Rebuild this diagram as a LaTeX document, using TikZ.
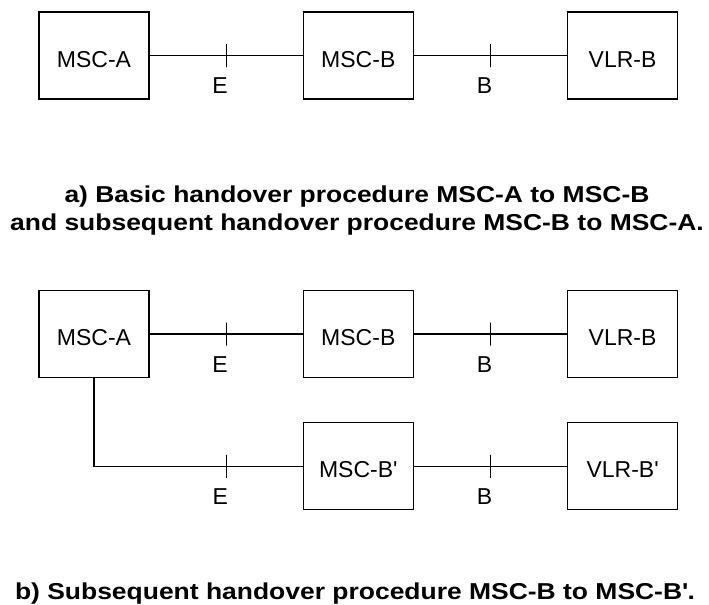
\documentclass[tikz,border=0pt]{standalone}
\usepackage{fontspec}
\setmainfont{Liberation Sans}
\newfontfamily\capfont{Liberation Sans}[FakeStretch=1.15]
\usetikzlibrary{positioning}

\begin{document}
\begin{tikzpicture}[
		x=0.5pt, y=-0.5pt,
		node distance=76.5pt,
		every node/.style={font=\fontsize{11.5}{14}\selectfont},
		entity/.style={
			rectangle,
			draw=black,
			line width=0.65pt,
			minimum width=55pt,
			minimum height=43.5pt,
			inner sep=0pt,
			text height=11.7pt,
			text depth=0pt
		},
		link/.style={line width=0.65pt},
		tickmark/.style={
			rectangle,
			draw=black,
			line width=0.65pt,
			minimum width=0pt,
			minimum height=11.5pt,
			inner sep=0pt
		},
		iface/.style={below=11pt, xshift=-3pt, inner sep=0pt},
		caption/.style={font=\capfont\bfseries\fontsize{11.5}{14}\selectfont, align=center}
	]
	\useasboundingbox (0,0) rectangle (709,605);
	
	% a) Basic handover
	\node (mscA) [entity] at (94,55.5) {MSC-A};
	\node (mscB) [entity, right=of mscA] {MSC-B};
	\node (vlrB) [entity, right=of mscB] {VLR-B};
	
	\draw [link] (mscA) -- node[tickmark, midway] {} node[iface, midway] {E} (mscB);
	\draw [link] (mscB) -- node[tickmark, midway] {} node[iface, midway] {B} (vlrB);
	
	\node (capA) [caption, anchor=base] at (357,230)
	{a) Basic handover procedure MSC-A to MSC-B\\and subsequent handover procedure MSC-B to MSC-A.};
	
	% b) Subsequent handover
	\node (mscA2) [entity] at (94,334) {MSC-A};
	\node (mscB2) [entity, right=of mscA2] {MSC-B};
	\node (vlrB2) [entity, right=of mscB2] {VLR-B};
	\node (mscBp) [entity, below=22pt of mscB2] {MSC-B\textquotesingle};
	\node (vlrBp) [entity, below=22pt of vlrB2] {VLR-B\textquotesingle};
	
	\draw [link] (mscA2) -- node[tickmark, midway] {} node[iface, midway] {E} (mscB2);
	\draw [link] (mscB2) -- node[tickmark, midway] {} node[iface, midway] {B} (vlrB2);
	\draw [link] (mscA2.south) |- node[tickmark, pos=0.817] {} node[iface, pos=0.817] {E} (mscBp.west);
	\draw [link] (mscBp) -- node[tickmark, midway] {} node[iface, midway] {B} (vlrBp);
	
	\node (capB) [caption, anchor=base] at (355,599)
	{b) Subsequent handover procedure MSC-B to MSC-B\textquotesingle.};
	
\end{tikzpicture}
\end{document}
